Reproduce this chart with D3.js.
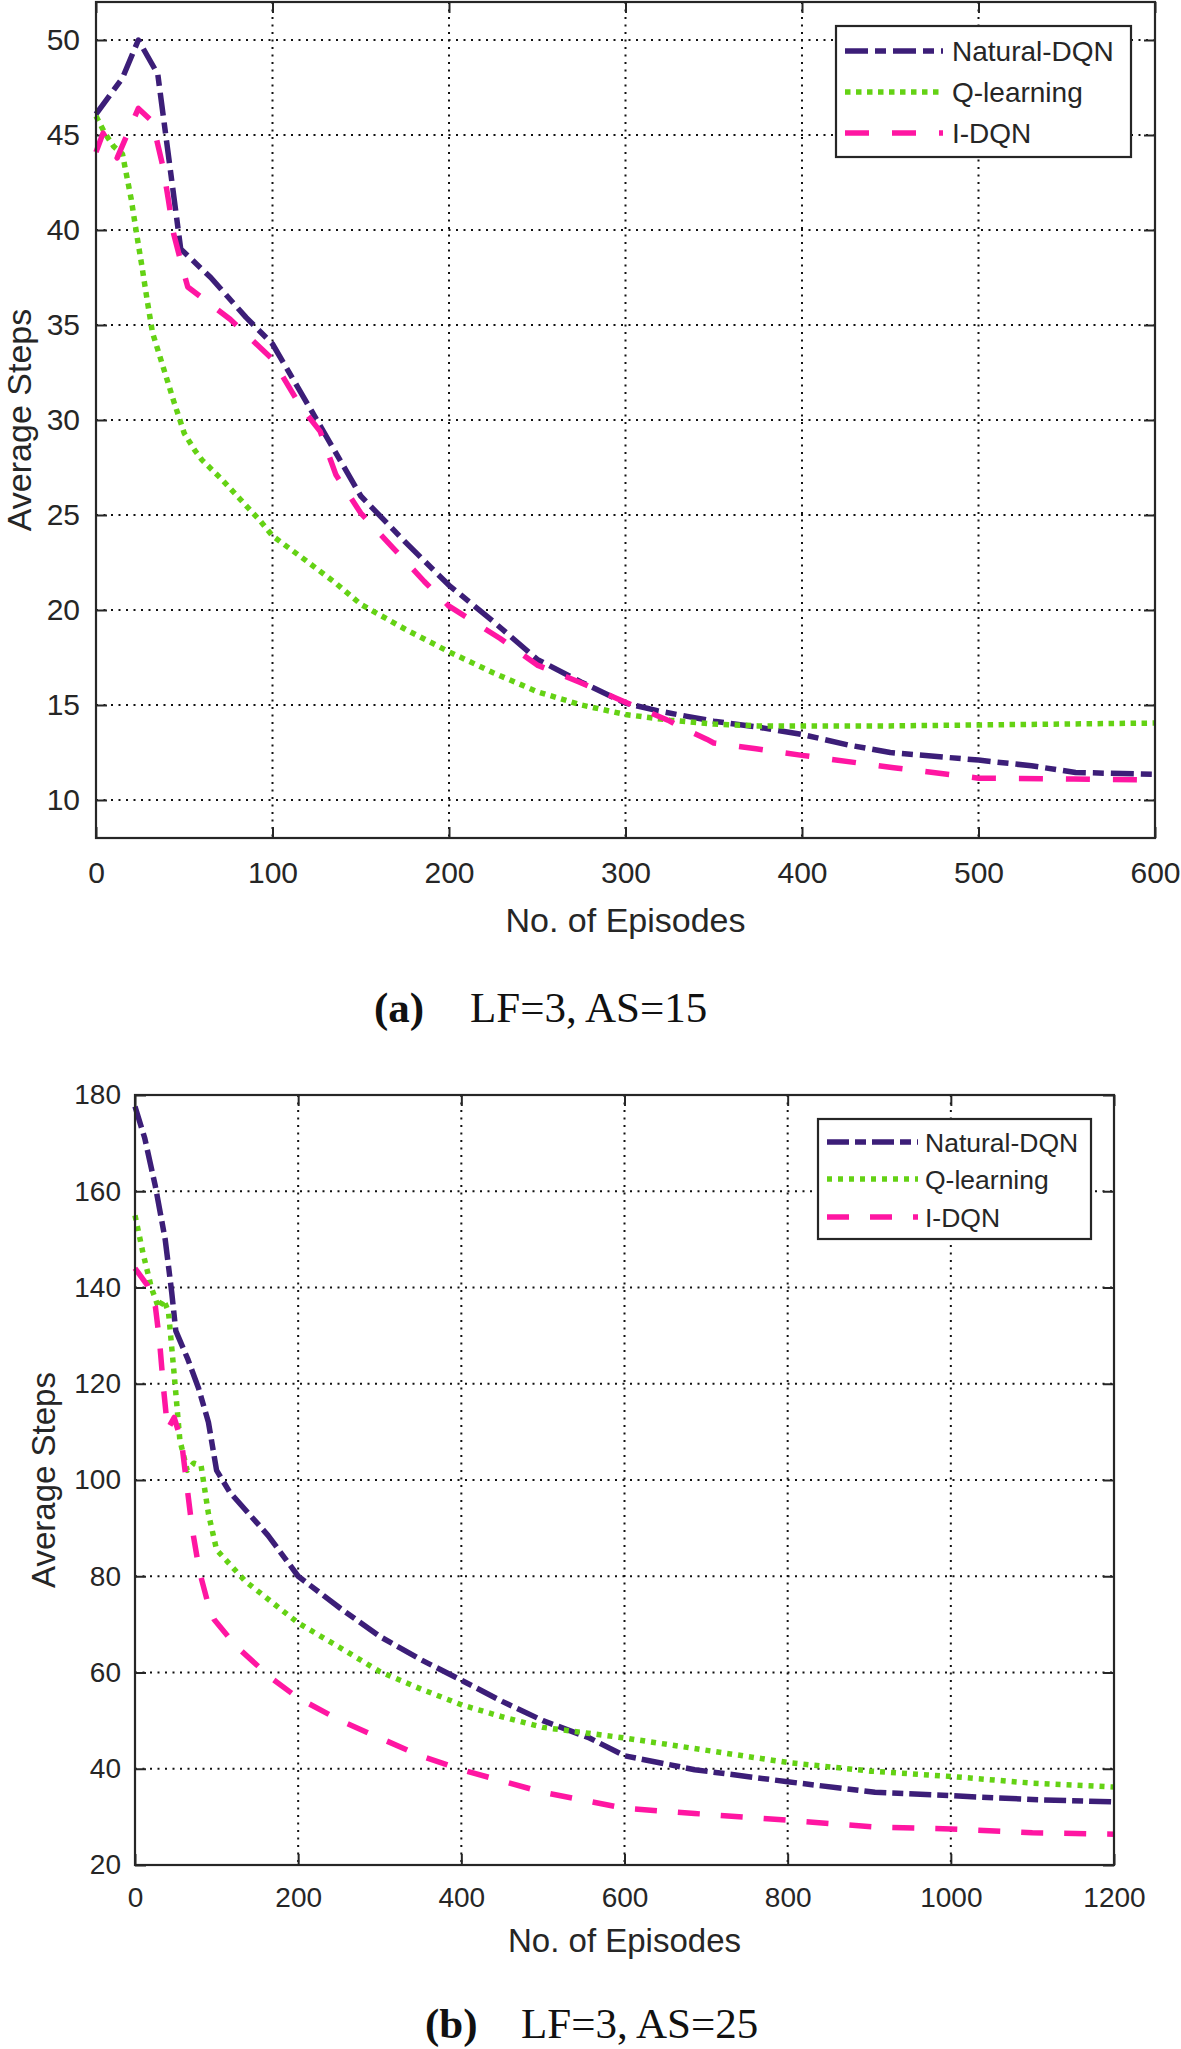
<!DOCTYPE html>
<html>
<head>
<meta charset="utf-8">
<script src="https://cdn.jsdelivr.net/npm/d3@7"></script>
<style>
  body { margin: 0; background: #fff; }
  svg { display: block; background: #fff; }
  text { font-family: "Liberation Sans", Arial, sans-serif; fill: #262626; }
  .caption { font-family: "Liberation Serif", "Times New Roman", serif; fill: #111; }
</style>
</head>
<body>
<div id="chart"></div>
<script>

// ---- panel (a): LF=3, AS=15 ----
const aTicksX = [0, 100, 200, 300, 400, 500, 600];
const aTicksY = [10, 15, 20, 25, 30, 35, 40, 45, 50];

const aNaturalX = [0, 15, 24, 35, 48, 65, 85, 100, 122, 150, 175, 200, 225, 250, 275, 300, 318, 335, 350, 374, 400, 426, 450, 500, 530, 555, 600];
const aNaturalY = [46.1, 48, 50, 48.2, 39, 37.5, 35.4, 34, 30.5, 26, 23.6, 21.3, 19.4, 17.4, 16.2, 15.1, 14.7, 14.4, 14.15, 13.85, 13.45, 12.9, 12.5, 12.1, 11.8, 11.45, 11.35];

const aQX = [0, 5, 10, 15, 20, 23, 26, 29, 32, 38, 44, 50, 56, 60, 71, 82, 93, 100, 119, 136, 150, 175, 200, 225, 250, 275, 300, 325, 350, 375, 400, 450, 500, 550, 600];
const aQY = [46, 45.1, 44.4, 44, 41.6, 39.8, 38.1, 36.3, 34.6, 32.8, 31, 29.3, 28.4, 27.9, 26.9, 25.8, 24.7, 23.9, 22.6, 21.4, 20.3, 19, 17.8, 16.7, 15.7, 15, 14.5, 14.2, 14, 13.9, 13.9, 13.9, 13.95, 14, 14.05];

const aIdqnX = [0, 4, 12, 24, 32, 38, 41, 44, 49, 52, 76, 100, 116, 127, 136, 150, 168, 186, 200, 229, 250, 274, 300, 324, 331, 346, 350, 374, 400, 452, 500, 554, 600];
const aIdqnY = [44.1, 45.1, 43.8, 46.4, 45.7, 43.3, 41.6, 39.8, 38, 37, 35.3, 33.2, 30.7, 29.4, 27.1, 25.1, 23.3, 21.5, 20.2, 18.5, 17.1, 16.2, 15.15, 14.2, 13.85, 13.2, 13, 12.7, 12.35, 11.7, 11.15, 11.1, 11.05];

// ---- panel (b): LF=3, AS=25 ----
const bTicksX = [0, 200, 400, 600, 800, 1000, 1200];
const bTicksY = [20, 40, 60, 80, 100, 120, 140, 160, 180];

const bNaturalX = [0, 12, 25, 37, 45, 50, 65, 78, 90, 100, 116, 163, 200, 252, 300, 350, 400, 450, 500, 557, 600, 686, 800, 907, 1000, 1100, 1200];
const bNaturalY = [177.6, 171, 161, 150, 139, 131, 125, 119, 112, 102, 97.5, 88.5, 80, 73.3, 67.5, 62.7, 58.4, 54, 50, 46.4, 42.7, 39.8, 37.3, 35.1, 34.4, 33.6, 33.1];

const bQX = [0, 10, 20, 29, 35, 41, 48, 55, 64, 72, 81, 90, 100, 135, 200, 250, 300, 350, 400, 450, 500, 600, 686, 800, 902, 1000, 1100, 1200];
const bQY = [155, 147, 140, 135.7, 137.5, 135, 122, 108.3, 102, 103.5, 103, 93, 85.5, 79, 70.3, 65.3, 60.2, 56.6, 53.3, 50.8, 48.6, 46.4, 44.2, 41.3, 39.5, 38.4, 37, 36.2];

const bIdqnX = [0, 15, 25, 30, 35, 40, 48, 57, 70, 79, 90, 97, 125, 168, 200, 252, 300, 350, 400, 500, 600, 686, 800, 907, 1000, 1100, 1200];
const bIdqnY = [144, 140.5, 136, 129, 119, 110.5, 113, 108, 90, 81, 74, 71, 65.3, 58.7, 54.7, 50, 46.4, 42.7, 39.8, 35.1, 31.8, 30.7, 29.3, 27.9, 27.5, 26.7, 26.4];

const seriesNames = ["Natural-DQN", "Q-learning", "I-DQN"];
const seriesColors = ["#3c1e78", "#64d214", "#ff16a2"];

const W = 1181, H = 2049;

const svg = d3.select("#chart").append("svg")
    .attr("width", W)
    .attr("height", H);

function drawPanel(p) {
    let g = svg.append("g");

    let x = d3.scaleLinear().domain(p.xDomain).range([p.left, p.right]);
    let y = d3.scaleLinear().domain(p.yDomain).range([p.bottom, p.top]);

    // dotted grid
    g.append("g")
        .selectAll("line")
        .data(p.ticksX.slice(1, -1))
        .enter().append("line")
        .attr("x1", d => x(d)).attr("x2", d => x(d))
        .attr("y1", p.top).attr("y2", p.bottom)
        .attr("stroke", "#111").attr("stroke-width", 2)
        .attr("stroke-dasharray", "2,5.5");

    g.append("g")
        .selectAll("line")
        .data(p.ticksY.filter(d => y(d) > p.top + 1 && y(d) < p.bottom - 1))
        .enter().append("line")
        .attr("x1", p.left).attr("x2", p.right)
        .attr("y1", d => y(d)).attr("y2", d => y(d))
        .attr("stroke", "#111").attr("stroke-width", 2)
        .attr("stroke-dasharray", "2,5.5");

    // inward ticks on all four sides
    let tl = 11;
    let fmt = d3.format("d");
    let axB = g.append("g").attr("transform", "translate(0," + p.bottom + ")")
        .call(d3.axisBottom(x).tickValues(p.ticksX).tickSize(-tl).tickPadding(p.xPad).tickFormat(fmt));
    let axT = g.append("g").attr("transform", "translate(0," + p.top + ")")
        .call(d3.axisTop(x).tickValues(p.ticksX).tickSize(-tl).tickFormat(""));
    let axL = g.append("g").attr("transform", "translate(" + p.left + ",0)")
        .call(d3.axisLeft(y).tickValues(p.ticksY).tickSize(-tl).tickPadding(p.yPad).tickFormat(fmt));
    let axR = g.append("g").attr("transform", "translate(" + p.right + ",0)")
        .call(d3.axisRight(y).tickValues(p.ticksY).tickSize(-tl).tickFormat(""));

    [axB, axT, axL, axR].forEach(a => {
        a.select(".domain").remove();
        a.selectAll(".tick line").attr("stroke", "#262626").attr("stroke-width", 2);
        a.selectAll("text")
            .attr("fill", "#262626")
            .style("font-size", p.tickFont + "px")
            .style("font-family", "'Liberation Sans', Arial, sans-serif");
    });

    // series
    let line = d3.line()
        .x(d => x(d[0]))
        .y(d => y(d[1]));

    p.series.forEach((s, i) => {
        let pts = s.xs.map((v, k) => [v, s.ys[k]]);
        g.append("path")
            .datum(pts)
            .attr("d", line)
            .attr("fill", "none")
            .attr("stroke", seriesColors[i])
            .attr("stroke-width", p.lineW)
            .attr("stroke-linejoin", "round")
            .attr("stroke-dasharray", p.dashes[i]);
    });

    // axes box
    g.append("rect")
        .attr("x", p.left).attr("y", p.top)
        .attr("width", p.right - p.left).attr("height", p.bottom - p.top)
        .attr("fill", "none").attr("stroke", "#262626").attr("stroke-width", 2.2);

    // legend
    let lg = p.legend;
    g.append("rect")
        .attr("x", lg.x0).attr("y", lg.y0)
        .attr("width", lg.x1 - lg.x0).attr("height", lg.y1 - lg.y0)
        .attr("fill", "#fff").attr("stroke", "#262626").attr("stroke-width", 2.2);

    seriesNames.forEach((name, i) => {
        let ry = lg.rows[i];
        g.append("line")
            .attr("x1", lg.lineX0).attr("x2", lg.lineX1)
            .attr("y1", ry).attr("y2", ry)
            .attr("stroke", seriesColors[i])
            .attr("stroke-width", p.lineW)
            .attr("stroke-dasharray", p.dashes[i]);
        g.append("text")
            .attr("x", lg.textX).attr("y", ry)
            .attr("dy", "0.36em")
            .style("font-size", lg.font + "px")
            .attr("fill", "#111")
            .text(name);
    });

    // axis titles
    g.append("text")
        .attr("x", (p.left + p.right) / 2)
        .attr("y", p.xTitleY)
        .attr("text-anchor", "middle")
        .style("font-size", p.titleFont + "px")
        .text("No. of Episodes");

    g.append("text")
        .attr("transform", "translate(" + p.yTitleX + "," + ((p.top + p.bottom) / 2) + ") rotate(-90)")
        .attr("text-anchor", "middle")
        .style("font-size", p.titleFont + "px")
        .text("Average Steps");

    // caption below the panel
    let cap = g.append("text")
        .attr("class", "caption")
        .attr("y", p.capY)
        .style("font-size", "43px");
    cap.append("tspan")
        .attr("x", p.capX)
        .style("font-weight", "bold")
        .text(p.capTag);
    cap.append("tspan")
        .attr("x", p.capX + 96)
        .text(p.capText);
}

drawPanel({
    left: 96, right: 1155, top: 2, bottom: 838,
    xDomain: [0, 600], yDomain: [8, 52],
    ticksX: aTicksX, ticksY: aTicksY,
    tickFont: 30, xPad: 24, yPad: 16,
    titleFont: 34, xTitleY: 932, yTitleX: 31,
    lineW: 5.5,
    dashes: ["23,7,11,7", "5.5,5.5", "24,23"],
    series: [
        {xs: aNaturalX, ys: aNaturalY},
        {xs: aQX, ys: aQY},
        {xs: aIdqnX, ys: aIdqnY}
    ],
    legend: {x0: 836, x1: 1131, y0: 26, y1: 157, rows: [51, 92, 133],
             lineX0: 845, lineX1: 943, textX: 952, font: 28},
    capX: 374, capY: 1022, capTag: "(a)", capText: "LF=3, AS=15"
});

drawPanel({
    left: 135, right: 1114, top: 1095, bottom: 1865,
    xDomain: [0, 1200], yDomain: [20, 180],
    ticksX: bTicksX, ticksY: bTicksY,
    tickFont: 28, xPad: 22, yPad: 14,
    titleFont: 33, xTitleY: 1952, yTitleX: 55,
    lineW: 5.5,
    dashes: ["22,6,11,6", "5,6", "22,21"],
    series: [
        {xs: bNaturalX, ys: bNaturalY},
        {xs: bQX, ys: bQY},
        {xs: bIdqnX, ys: bIdqnY}
    ],
    legend: {x0: 818, x1: 1091, y0: 1119, y1: 1239, rows: [1142, 1179, 1217],
             lineX0: 827, lineX1: 918, textX: 925, font: 26.5},
    capX: 425, capY: 2038, capTag: "(b)", capText: "LF=3, AS=25"
});

</script>
</body>
</html>
